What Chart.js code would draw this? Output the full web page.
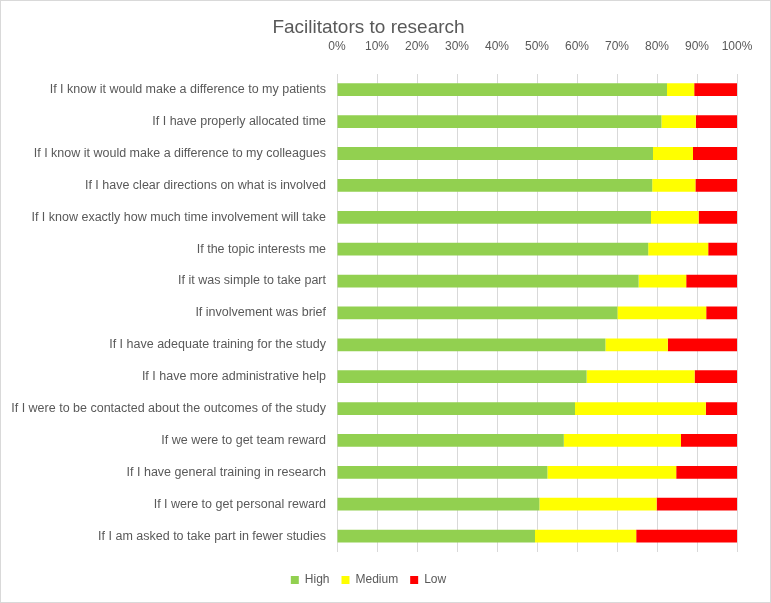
<!DOCTYPE html>
<html>
<head>
<meta charset="utf-8">
<script src="https://cdn.jsdelivr.net/npm/chart.js@4/dist/chart.umd.min.js"></script>
<style>
  html, body { margin: 0; padding: 0; background: #fff; }
  #wrap { width: 771px; height: 603px; }
</style>
</head>
<body>
<div id="wrap"><canvas id="chart" width="771" height="603"></canvas></div>
<script>
const categories = [
  "If I know it would make a difference to my patients",
  "If I have properly allocated time",
  "If I know it would make a difference to my colleagues",
  "If I have clear directions on what is involved",
  "If I know exactly how much time involvement will take",
  "If the topic interests me",
  "If it was simple to take part",
  "If involvement was brief",
  "If I have adequate training for the study",
  "If I have more administrative help",
  "If I were to be contacted about the outcomes of the study",
  "If we were to get team reward",
  "If I have general training in research",
  "If I were to get personal reward",
  "If I am asked to take part in fewer studies"
];
const high   = [82.5, 81.1, 79.0, 78.8, 78.5, 77.8, 75.4, 70.1, 67.1, 62.4, 59.5, 56.7, 52.6, 50.6, 49.5];
const medium = [ 6.8,  8.6, 10.0, 10.8, 11.9, 15.0, 11.9, 22.2, 15.6, 27.0, 32.7, 29.3, 32.2, 29.3, 25.3];
const low    = [10.7, 10.3, 11.0, 10.4,  9.6,  7.2, 12.7,  7.7, 17.3, 10.6,  7.8, 14.0, 15.2, 20.1, 25.2];
const xTicks = [0, 10, 20, 30, 40, 50, 60, 70, 80, 90, 100];

const textColor = "#595959";
const fontFamily = "'Liberation Sans', Arial, sans-serif";

// thin grey frame round the whole chart
const frame = {
  id: "frame",
  afterDraw(chart) {
    const ctx = chart.ctx;
    ctx.save();
    ctx.strokeStyle = "#d9d9d9";
    ctx.lineWidth = 1;
    ctx.strokeRect(0.5, 0.5, chart.width - 1, chart.height - 1);
    ctx.restore();
  }
};

new Chart(document.getElementById("chart"), {
  type: "bar",
  data: {
    labels: categories,
    datasets: [
      { label: "High", data: high, backgroundColor: "#92d050" },
      { label: "Medium", data: medium, backgroundColor: "#ffff00" },
      { label: "Low", data: low, backgroundColor: "#ff0000" }
    ]
  },
  options: {
    responsive: false,
    animation: false,
    indexAxis: "y",
    barPercentage: 0.8,
    categoryPercentage: 0.5,
    layout: { padding: { left: 0, right: 34, top: 0, bottom: 7 } },
    scales: {
      x: {
        position: "top",
        stacked: true,
        min: 0,
        max: 100,
        afterBuildTicks: (scale) => { scale.ticks = xTicks.map(v => ({ value: v })); },
        afterFit: (scale) => {
          scale.height = 35;
          scale.paddingLeft = 0;
          scale.paddingRight = 0;
        },
        ticks: {
          color: textColor,
          font: { family: fontFamily, size: 12 },
          padding: 20,
          callback: (v) => v + "%"
        },
        grid: { color: "#d9d9d9", drawTicks: false },
        border: { display: false }
      },
      // empty strip between plot and legend
      gap: {
        axis: "x",
        position: "bottom",
        ticks: { display: false },
        grid: { display: false, drawTicks: false },
        border: { display: false },
        afterFit: (scale) => {
          scale.height = 10;
          scale.paddingLeft = 0;
          scale.paddingRight = 0;
        }
      },
      y: {
        stacked: true,
        afterFit: (scale) => { scale.width = 337; },
        ticks: {
          color: textColor,
          font: { family: fontFamily, size: 12.5 },
          padding: 11
        },
        grid: { display: false, drawTicks: false },
        border: { display: false }
      }
    },
    plugins: {
      title: {
        display: true,
        text: "Facilitators to research",
        color: textColor,
        font: { family: fontFamily, size: 19, weight: "normal" },
        padding: { top: 16, bottom: 0 }
      },
      legend: {
        position: "bottom",
        labels: {
          color: textColor,
          font: { family: fontFamily, size: 12 },
          boxWidth: 8,
          boxHeight: 8,
          padding: 12
        }
      },
      tooltip: { enabled: false }
    }
  },
  plugins: [frame]
});
</script>
</body>
</html>
